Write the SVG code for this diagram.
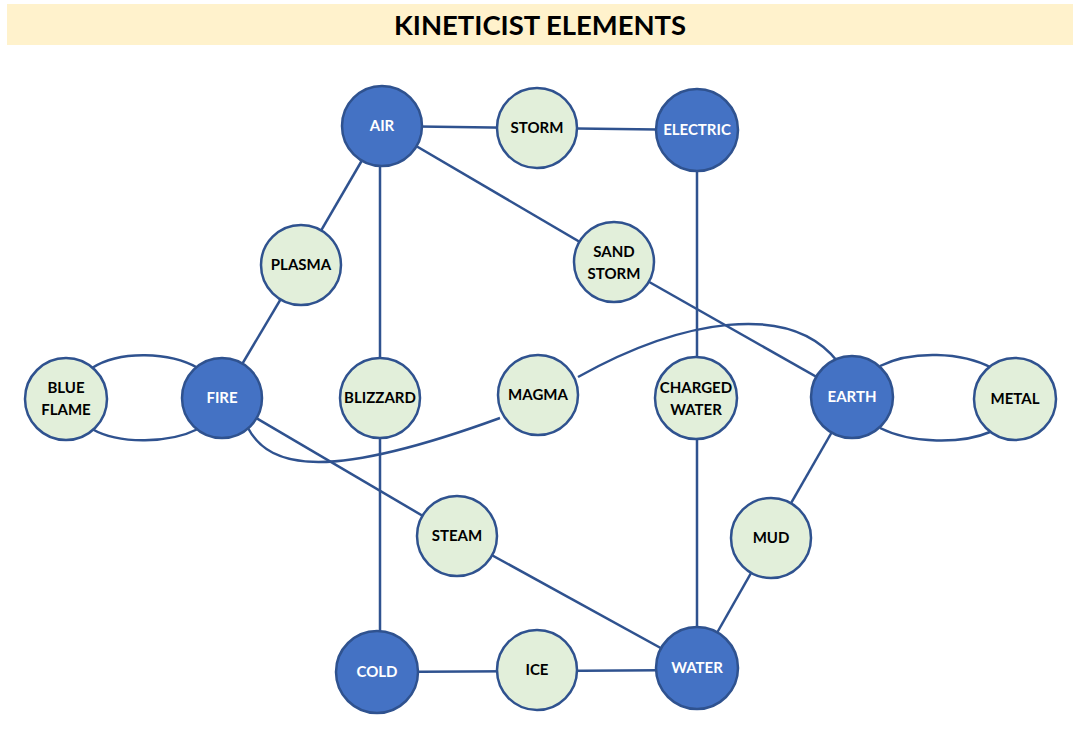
<svg xmlns="http://www.w3.org/2000/svg" width="1080" height="731" viewBox="0 0 1080 731">
<style>
.bg{fill:#ffffff}
.title-bar{fill:#FFF2CC}
.title{font-family:Lato,"Open Sans","Liberation Sans",sans-serif;font-size:27px;font-weight:700;fill:#000;text-anchor:middle}
.main circle{fill:#4472C4;stroke:#2F528F;stroke-width:2.5}
.sub circle{fill:#E2EFDA;stroke:#2F528F;stroke-width:2.5}
.lbl{font-family:Lato,"Open Sans","Liberation Sans",sans-serif;font-size:15px;font-weight:700;text-anchor:middle}
.main .lbl{fill:#ffffff}
.sub .lbl{fill:#000000}
#connectors path,#connectors line{stroke:#2F528F;stroke-width:2.5;fill:none}
</style>
<rect class="bg" x="0" y="0" width="1080" height="731"/>
<rect class="title-bar" x="7" y="4" width="1066" height="41"/>
<text class="title" x="540" y="35" textLength="292" lengthAdjust="spacingAndGlyphs">KINETICIST ELEMENTS</text>
<g id="connectors">
<line x1="382" y1="126" x2="537" y2="128"/>
<line x1="537" y1="128" x2="697" y2="130"/>
<line x1="382" y1="126" x2="301" y2="265"/>
<line x1="301" y1="265" x2="222" y2="398"/>
<line x1="380" y1="126" x2="380" y2="398"/>
<line x1="382" y1="126" x2="614" y2="262"/>
<line x1="614" y1="262" x2="852" y2="397"/>
<line x1="697" y1="130" x2="697" y2="668"/>
<line x1="380" y1="398" x2="380" y2="672"/>
<line x1="222" y1="398" x2="457" y2="536"/>
<line x1="457" y1="536" x2="697" y2="668"/>
<line x1="377" y1="672" x2="697" y2="670"/>
<line x1="852" y1="397" x2="771" y2="538"/>
<line x1="771" y1="538" x2="697" y2="668"/>
<path d="M 92,368 C 120,350 170,352 198,368"/>
<path d="M 92,429 C 120,445 170,443 198,429"/>
<path d="M 880,366 C 912,350 962,352 992,368"/>
<path d="M 880,428 C 912,444 962,444 990,432"/>
<path d="M 248,428 C 270,470 330,480 500,418"/>
<path d="M 578,377 C 680,320 790,300 838,362"/>
</g>
<g id="air" class="main"><circle cx="382" cy="126" r="40"/><text class="lbl" x="382" y="131">AIR</text></g>
<g id="storm" class="sub"><circle cx="537" cy="128" r="40"/><text class="lbl" x="537" y="133">STORM</text></g>
<g id="electric" class="main"><circle cx="697" cy="130" r="41"/><text class="lbl" x="697" y="135">ELECTRIC</text></g>
<g id="plasma" class="sub"><circle cx="301" cy="265" r="40"/><text class="lbl" x="301" y="270">PLASMA</text></g>
<g id="sandstorm" class="sub"><circle cx="614" cy="262" r="40"/><text class="lbl" x="614" y="257">SAND</text><text class="lbl" x="614" y="279">STORM</text></g>
<g id="blueflame" class="sub"><circle cx="66" cy="399" r="41"/><text class="lbl" x="66" y="393">BLUE</text><text class="lbl" x="66" y="415">FLAME</text></g>
<g id="fire" class="main"><circle cx="222" cy="398" r="40"/><text class="lbl" x="222" y="403">FIRE</text></g>
<g id="blizzard" class="sub"><circle cx="380" cy="398" r="40"/><text class="lbl" x="380" y="403">BLIZZARD</text></g>
<g id="magma" class="sub"><circle cx="538" cy="395" r="40"/><text class="lbl" x="538" y="400">MAGMA</text></g>
<g id="chargedwater" class="sub"><circle cx="696" cy="398" r="41"/><text class="lbl" x="696" y="393">CHARGED</text><text class="lbl" x="696" y="415">WATER</text></g>
<g id="earth" class="main"><circle cx="852" cy="397" r="41"/><text class="lbl" x="852" y="402">EARTH</text></g>
<g id="metal" class="sub"><circle cx="1015" cy="399" r="41"/><text class="lbl" x="1015" y="404">METAL</text></g>
<g id="steam" class="sub"><circle cx="457" cy="536" r="40"/><text class="lbl" x="457" y="541">STEAM</text></g>
<g id="mud" class="sub"><circle cx="771" cy="538" r="40"/><text class="lbl" x="771" y="543">MUD</text></g>
<g id="cold" class="main"><circle cx="377" cy="672" r="41"/><text class="lbl" x="377" y="677">COLD</text></g>
<g id="ice" class="sub"><circle cx="537" cy="670" r="40"/><text class="lbl" x="537" y="675">ICE</text></g>
<g id="water" class="main"><circle cx="697" cy="668" r="41"/><text class="lbl" x="697" y="673">WATER</text></g>
</svg>
